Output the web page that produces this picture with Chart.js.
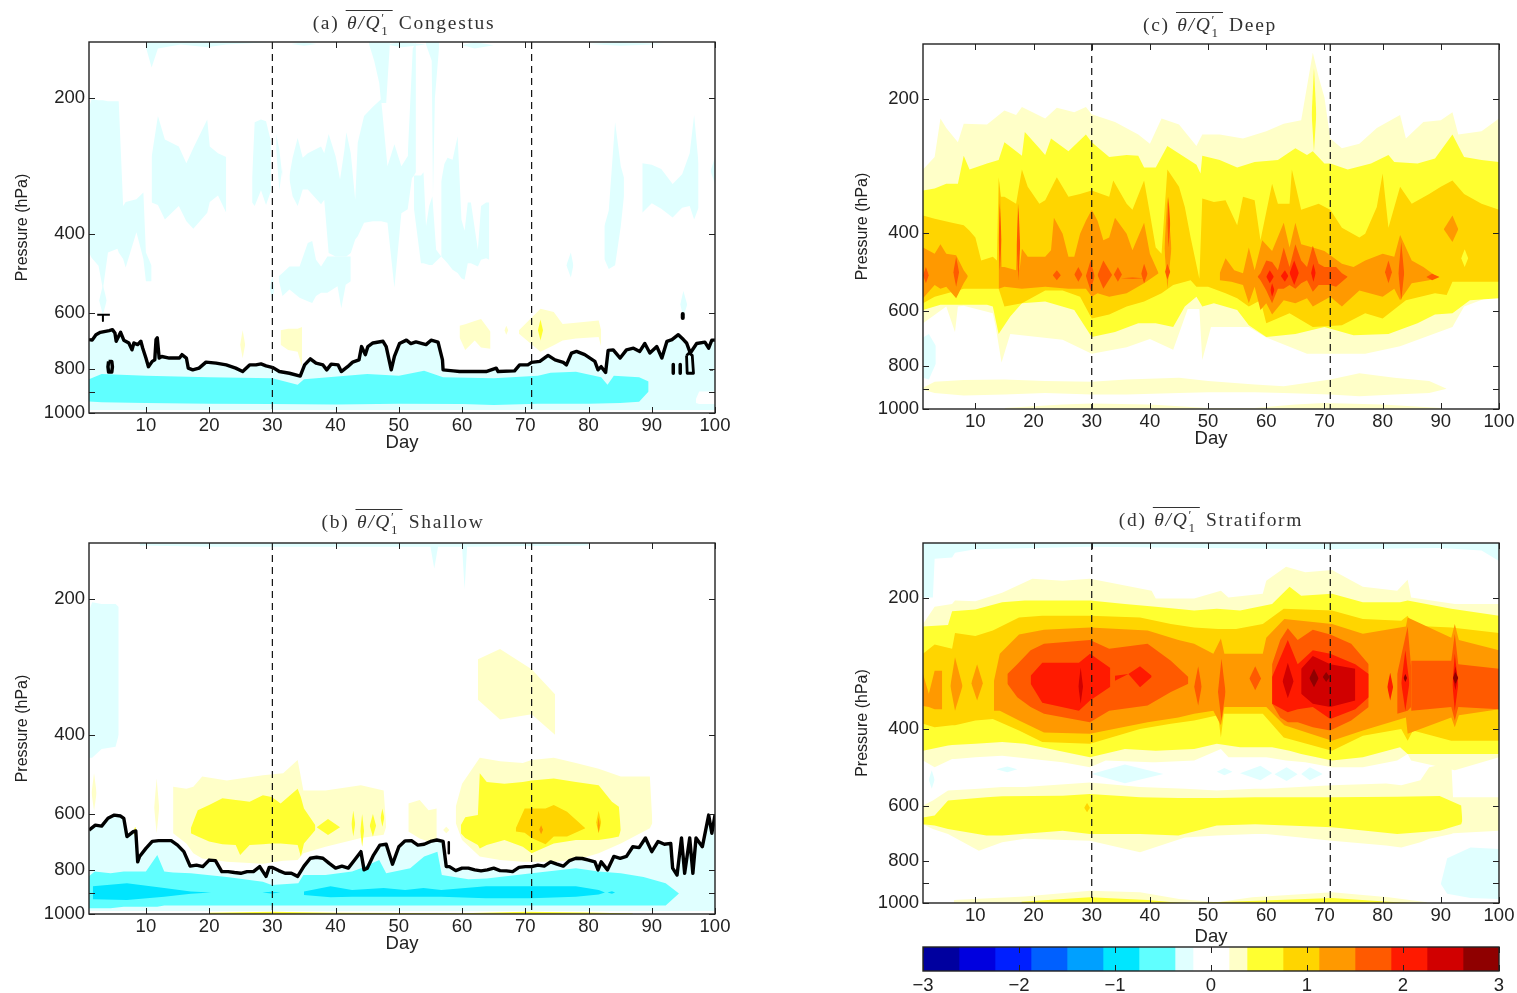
<!DOCTYPE html>
<html>
<head>
<meta charset="utf-8">
<title>Q1 composites</title>
<script src="https://cdn.jsdelivr.net/npm/chart.js@4"></script>
<style>
  html, body { margin: 0; background: #fff; overflow: hidden; }
  #page { position: relative; width: 1517px; height: 993px; filter: blur(0.4px); }
  canvas { position: absolute; }
  .ttl { position: absolute; transform: translate(-50%, -50%); white-space: nowrap;
         font: 19.5px "Liberation Serif", serif; letter-spacing: 1.7px; color: #333; line-height: 26px; }
  .ov { display: inline-block; border-top: 1.6px solid #333; padding: 0 1px; line-height: 24px; }
  .ss { display: inline-block; position: relative; width: 10px; height: 10px; }
  .ss b { position: absolute; left: 0; font-weight: normal; font-size: 13px; line-height: 13px; }
</style>
</head>
<body>
<div id="page">
  <canvas id="panelA"></canvas>
  <canvas id="panelB"></canvas>
  <canvas id="panelC"></canvas>
  <canvas id="panelD"></canvas>
  <canvas id="colorBar"></canvas>
  <div class="ttl" style="left:404px;top:23px">(a) <span class="ov"><i>θ/Q</i><span class="ss"><b style="top:-8px">′</b><b style="top:5px">1</b></span></span> Congestus</div>
  <div class="ttl" style="left:403px;top:522px">(b) <span class="ov"><i>θ/Q</i><span class="ss"><b style="top:-8px">′</b><b style="top:5px">1</b></span></span> Shallow</div>
  <div class="ttl" style="left:1210px;top:25px">(c) <span class="ov"><i>θ/Q</i><span class="ss"><b style="top:-8px">′</b><b style="top:5px">1</b></span></span> Deep</div>
  <div class="ttl" style="left:1211px;top:520px">(d) <span class="ov"><i>θ/Q</i><span class="ss"><b style="top:-8px">′</b><b style="top:5px">1</b></span></span> Stratiform</div>
</div>
<script>
// axis values
const dayTicks = [10, 20, 30, 40, 50, 60, 70, 80, 90, 100];
const pressureTicks = [200, 400, 600, 800, 900, 1000];
const pressureLabels = [200, 400, 600, 800, 1000];
const eventDays = [30, 71];
const topP = 150;
const floorP = 1000;

// colour bar
const barEdges = [-3, -2.625, -2.25, -1.875, -1.5, -1.125, -0.75, -0.375, -0.1875, 0.1875, 0.375, 0.75, 1.125, 1.5, 1.875, 2.25, 2.625, 3];
const barColors = ["#00009f", "#0000df", "#001fff", "#0060ff", "#00a0ff", "#00e6ff", "#60ffff", "#e0ffff", "#ffffff", "#ffffc8", "#ffff30", "#ffd500", "#ff9900", "#ff5a00", "#ff1a00", "#d10000", "#8f0000"];
const barTicks = [-3, -2, -1, 0, 1, 2, 3];

const paleCyan = "#e0ffff", cyan = "#60ffff", deepCyan = "#00e5ff";
const paleYellow = "#ffffc8", yellow = "#ffff30", gold = "#ffd500", orange = "#ff9900";
const darkOrange = "#ff5a00", red = "#ff1a00", darkRed = "#d10000", maroon = "#8f0000";

// ---- panel a: thick line (day, hPa)
const aLineDays = [1,1.5,2.1,2.8,4.2,4.7,5.1,5.3,6,6.5,7.3,7.8,8.1,8.7,9.2,9.5,10,10.4,11,11.4,11.6,11.8,12.1,12.5,13.7,15.3,15.7,16.4,16.7,17.4,18.4,19.5,21.1,22.7,24.2,25.3,26.4,27.4,28.2,29,30.1,31.1,32.7,34.4,35.1,36,36.9,38,38.6,39.3,40.4,40.9,41.9,42.7,43.7,44.1,44.7,45.1,45.9,47.5,48,48.8,49.3,50.1,51.2,51.9,52.7,54.3,55.1,56.2,56.9,57,58.6,59.6,63.8,65.4,65.7,68.3,69.1,70.4,71,72.3,73.6,74.7,76,76.5,77.3,78.1,79.4,81,81.5,82,82.7,83.1,83.9,85,86,87.1,88.1,88.9,89.7,90.8,91.6,92.4,93.2,94.2,95,95.5,96.1,97.1,98.4,99,99.5,100];
const aLine = [687,689,670,662,656,653,664,693,662,689,699,724,699,705,693,718,755,789,768,762,687,681,755,749,755,755,742,755,795,802,795,771,775,782,795,809,782,782,778,786,793,809,816,828,782,758,775,782,802,779,782,809,789,771,762,712,742,712,699,693,712,802,749,701,689,701,695,705,689,696,762,802,806,809,809,795,809,806,782,782,772,768,745,762,772,782,736,730,742,768,802,789,813,726,724,755,724,718,730,701,736,712,755,693,687,670,687,699,736,701,696,718,689,689];
const aRingDays = [4.1,4,4.1,4.6,4.7,4.6,4.1];
const aRing = [768,790,811,811,790,768,768];
const aLoopDays = [95.5,95.6,96.6,96.4,95.9,95.5];
const aLoop = [745,816,816,745,736,745];
const aDashDays = [2.3,3.2,3.2,3.2,4.3];
const aDash = [605,605,625,605,605];
const aBar1Days = [93.4,93.4];
const aBar2Days = [94.5,94.5];
const aBarVals = [780,816];
const aDotDays = [99.2,99.7];
const aDotVals = [802,802];
const aTopDotDays = [94.9,94.9];
const aTopDotVals = [603,615];

// panel a: lower bands
const aCyanDays = [1,3,10,20,30,34,35,45,50,54,57,65,72,74,78,82,83,84,88,89.5];
const aCyanTop = [841,819,827,833,837,866,841,819,827,806,833,837,827,814,810,833,866,827,833,851];
const aCyanBotDays = [1,3,10,20,30,40,50,60,65,72,80,85,88,89.5];
const aCyanBot = [943,947,950,954,955,957,954,955,960,954,954,950,944,896];
const aHoleDays = [97,97.5,100];
const aHoleTop = [930,896,896];
const aHoleBot = [950,955,955];

// panel a: pale cyan patches aloft
const aP1Days = [1,1.4,2.5,3.2,4,5.5,5.7,6.4,6.8,8.5,9.6,10,10.9];
const aP1Top = [210,201,202,202,203,203,203,347,340,335,324,440,471];
const aP1Bot = [440,452,471,531,440,432,440,455,475,397,455,510,510];
const aP2Days = [10.9,11.9,13,15.2,16.4,17.5,19.7,20.1,21.4,22.7];
const aP2Top = [270,219,247,256,279,258,223,256,265,270];
const aP2Bot = [341,345,372,347,375,390,359,340,329,359];
const aP3Days = [26.8,27.2,28.2,29,29.8];
const aP3Top = [300,226,223,225,250];
const aP3Bot = [341,347,320,345,320];
const aP4Days = [32.7,33.2,34,34.8,35.6,37.7,38.2,38.9,40,40.7,41.4,41.7,42.4,43.1,43.5,44.5,45.9,47.2,48.2,49.3,50.4,51.4,52.2];
const aP4Top = [297,271,245,271,265,256,265,240,269,303,260,238,265,336,251,219,209,201,283,253,283,269,269];
const aP4Bot = [303,330,347,319,319,344,336,441,449,449,449,449,441,412,405,378,375,375,378,527,360,353,292];
const aP5Days = [31,31.6,32.7,34.3,35.6,36.3,36.9,37.7,38.7,40.3,40.9,41.6,42.4];
const aP5Top = [497,489,473,473,419,415,457,473,449,449,449,449,449];
const aP5Bot = [506,550,532,555,565,570,550,541,541,523,585,519,510];
const aP8Days = [52.4,53.5,53.9,54.3,54.8,55.3,55.9,56.7];
const aP8Top = [297,297,292,385,347,330,434,449];
const aP8Bot = [353,465,465,467,469,469,460,449];
const aP9Days = [56.7,57.2,57.7,58.5,59.3,59.9,60.4,60.9,61.4,62.5,63,63.8,64.3];
const aP9Top = [306,280,271,274,243,372,394,341,341,434,347,341,341];
const aP9Bot = [449,457,465,481,489,502,506,465,465,473,457,453,457];
const aPlume1Days = [45.3,46.1,46.9,47.2,48,48.6];
const aPlume1Bot = [152,165,185,205,205,150];
const aPlume2Days = [51.4,51.9,52.2,52.7];
const aPlume2Top = [269,191,155,150];
const aPlume2Bot = [283,300,300,292];
const aPlume3Days = [54.3,55.2,55.4,55.7,56.4];
const aPlume3Bot = [152,165,330,200,152];
const aLeadDays = [30.6,31.1,31.6];
const aLeadTop = [240,260,300];
const aLeadBot = [260,320,285];
const aP6Days = [82.5,83.2,84.2,85.1,85.6];
const aP6Top = [385,355,226,283,300];
const aP6Bot = [455,479,470,385,330];
const aP7Days = [88.5,90,91.5,93.3,94.8,96,96.7,97.4];
const aP7Top = [279,281,287,310,295,265,218,280];
const aP7Bot = [359,342,352,368,350,347,372,350];
const aStripDays = [10,10.9,11.9,15.5,19.7,22.7,26.5,29.8];
const aStripBot = [154,171,155,152,154,152,151,150];
// [start, middle, end, top hPa, bottom hPa]
const aSlivers = [[99.3,100,100,270,310],[94.5,95,95.6,536,612],[2.6,3.2,3.8,520,605],[76.5,77.2,77.6,440,500],[33,35,37,150,153],[60,62,65,150,155],[80,85,92,150,153],[29.6,30,30.3,497,560],[48,50.5,54.3,150,154]];

// panel a: pale yellow patches
const aY1Days = [31.3,32.5,34,34.7];
const aY1Top = [655,650,650,644];
const aY1Bot = [705,725,731,790];
const aY2Days = [59.6,60.5,62,63,64.5];
const aY2Top = [640,635,625,618,660];
const aY2Bot = [680,725,690,715,720];
const aY3Days = [69,72.4,74.5,75.9,78,81.6,82];
const aY3Top = [655,587,597,634,630,623,655];
const aY3Bot = [667,731,707,690,683,678,713];
const aYSlivers = [[24.9,25.3,25.7,655,756],[66.7,67,67.3,640,670]];
const aYellowSlivers = [[72,72.4,72.8,620,690]];

// ---- panel b: thick line
const bLineDays = [1,2,3,4,5,6,6.5,7,8,8.4,8.7,9,10,11,12,13,14,15,16,17,18,19,20,21,22,23,24,25,26,27,28,29,29.5,30,31,32,33,34,35,36,37,38,39,40,41,42,43,44,44.5,45,46,47,48,49,50,51,52,53,54,55,56,57,57.5,58,59,60,61,62,63,64,65,66,67,68,69,70,71,72,73,74,75,76,77,78,79,80,81,81.5,82,83,84,85,86,87,88,89,90,91,92,93,93.3,94,94.7,95.2,96,96.5,97,98,99,99.5,100];
const bLine = [651,635,638,613,603,606,613,673,656,654,766,745,715,690,687,687,687,703,727,783,779,785,759,761,805,805,809,812,805,805,785,825,788,788,801,812,812,825,783,752,748,752,772,791,783,791,759,727,798,791,740,703,700,775,709,688,687,703,700,690,685,690,785,785,801,791,791,798,802,798,791,801,802,805,788,785,785,779,783,766,775,783,761,752,753,759,766,798,766,798,745,752,745,709,712,678,727,690,700,697,791,819,678,812,678,812,678,709,603,662,603];
const bMarkDays = [57.9,57.9];
const bMark = [693,733];

// panel b: blue bands
const bCyanDays = [1,1.9,4.4,6.5,10,11.8,12.9,14.3,17.1,22.8,28.5,29.9,34.1,34.9,38.4,42.6,44,46.9,48,51.8,54,56.1,56.8,61,63.9,71,78,81.6,85.1,88.7,92.2,94.3];
const bCyanTop = [824,805,812,805,805,740,805,809,812,828,848,862,855,819,819,805,791,759,812,791,745,727,819,837,834,812,791,805,812,828,855,900];
const bCyanBot = [971,971,971,963,963,963,958,958,958,958,958,958,958,958,958,958,958,958,958,958,958,958,958,958,958,958,958,958,958,958,958,900];
const bDeep1Days = [1.6,7,12.9,17.1,20.3];
const bDeep1Top = [868,855,875,891,896];
const bDeep1Bot = [927,931,915,902,896];
const bDeep2Days = [35,39.2,42.6,47.6,51,53.9,56.7,63.8,70.9,78,81.6,82.6];
const bDeep2Top = [891,868,884,875,884,875,884,868,868,868,884,896];
const bDeep2Bot = [907,918,916,915,915,915,915,923,923,915,905,896];
const bDeepSlivers = [[28.4,29.8,31.3,892,900],[83,83.7,84.2,890,902]];
const bLeftDays = [1,1.5,3,5.2,5.7];
const bLeftTop = [212,203,205,205,208];
const bLeftBot = [450,450,430,425,400];
const bStripDays = [9,20,40,55,55.6,56.2,60,60.4,60.8,80];
const bStripBot = [152,153,153,153,171,153,153,190,153,152];

// panel b: warm bands
const bPale1Days = [14.3,16.4,17.5,18.9,22.8,28.5,31.7,34,34.9,38.4,44,47.6,48];
const bPale1Top = [522,527,522,495,505,492,487,455,532,532,518,532,640];
const bPale1Bot = [662,697,733,753,766,773,762,759,733,709,678,667,640];
const bPale2Days = [51.5,53.3,54.7,56];
const bPale2Top = [568,558,588,583];
const bPale2Bot = [656,680,690,680];
const bPale3Days = [59,60,62.8,66,69.6,71,74.5,78,81.6,85.1,89.7,90.1];
const bPale3Top = [578,514,450,458,462,455,450,462,476,495,495,628];
const bPale3Bot = [628,685,745,759,766,766,766,759,733,697,645,628];
const bPale4Days = [62.5,66,71,74.7];
const bPale4Top = [272,258,286,325];
const bPale4Bot = [334,370,360,400];
const bPaleSlivers = [[11.3,11.7,12.1,500,662],[1.4,1.8,2.2,487,590],[57,57.5,58,640,662]];
const bYellow1Days = [17.1,18.2,20,22.1,24.2,24.9,26.4,28.5,29.9,31.3,34,34.5,35,36.8];
const bYellow1Top = [645,588,573,553,558,560,563,545,550,568,527,550,583,635];
const bYellow1Bot = [662,673,690,700,703,740,703,700,697,697,703,745,697,651];
const bYellow2Days = [59.8,60.5,62.5,62.8,63.9,66.7,69.6,71,74.5,78,81.6,83.7,84.8,85.1];
const bYellow2Top = [635,610,603,487,509,514,509,505,500,509,518,563,578,651];
const bYellow2Bot = [662,678,703,715,703,685,709,733,697,685,685,678,673,651];
const bYellowSlivers = [[37,38.8,40.7,615,668],[42.5,42.8,43.1,590,673],[43.9,44.2,44.5,600,709],[45.4,45.9,46.4,600,673],[47.1,47.4,47.7,583,640],[8,8.3,8.6,640,673]];
const bGoldDays = [68.5,69.9,71,73.2,74.5,76.6,79.5];
const bGoldTop = [645,583,583,583,573,593,645];
const bGoldBot = [656,660,678,700,673,673,645];
const bGoldSlivers = [[81.2,81.6,82,590,662]];
const bOrangeSlivers = [[72.2,72.5,72.8,635,665],[81.4,81.6,81.8,610,660]];
const bSliverDays = [20,30,40,60,70,80,87];
const bSliverTop = [994,988,994,996,988,992,998];

// ---- panel c
const cPaleDays = [1,3,4,5,7,8,12,15,17,18,22,24,27,29,30,34,38,40,42,45,48,49,52,56,60,63,66,68,69,70,71,73,76,79,83,84,87,90,92,93,97,100];
const cPaleTop = [288,270,221,232,250,227,228,212,217,208,221,209,214,208,216,225,240,252,221,228,255,240,240,245,236,227,223,157,178,198,245,258,252,232,217,245,225,223,214,240,236,221];
const cPaleBotDays = [1,5,6.5,7,8,13,13.5,14.5,16,25,30,36,40,44,46.5,48.5,49,50.5,57,60,67,77,83,92,94,100];
const cPaleBot = [640,587,670,587,585,608,653,785,677,698,750,725,695,735,595,595,775,653,653,690,750,750,722,653,587,548];
const cYellowDays = [1,3,5,7,8,9,12,14,15,18,18.5,21,22,23,26,29,30,33,36,38,39,41,43,45,48,48.7,49,52,55,58,62,65,67,68,70,71,74,78,81,82,86,89,92,94,97,100];
const cYellowTop = [321,318,310,310,268,288,279,274,250,268,237,258,267,245,262,240,250,270,267,268,285,285,255,265,281,294,268,274,285,277,274,258,267,262,279,279,288,279,267,277,279,272,240,270,274,277];
const cYellowBotDays = [1,4,8,12,13,14,15,16,18,22,27,30,34,38,41,44,46,48,49,51,55,57,60,65,70,75,81,86,89,92,95,100];
const cYellowBot = [598,582,582,582,587,677,647,618,577,572,598,688,670,640,640,653,587,558,587,577,598,647,688,677,653,682,677,640,612,608,568,562];
const cGoldDays = [1,3,6,8,9,10,11,13,13.7,14,14.4,15,17,18,19,21,22,24,26,28,30,33,33.7,36,37,39,40,41,42,43,45,46,47,48.5,49,51,53,55,56,58,59,61,62,64,64.4,66,69,71,73,76,77,79,80,81,83,85,88,90,92,94,97,100];
const cGoldTop = [366,372,380,385,396,410,462,453,462,300,332,332,344,288,315,344,338,300,332,327,321,332,305,344,355,305,362,432,446,288,315,350,410,508,335,341,338,385,332,338,416,310,344,344,288,355,344,355,390,410,402,350,294,390,315,344,327,315,305,327,344,355];
const cGoldBotDays = [1,3,8,14,15,18,22,25,28,30,33,36,39,42,44,47,48,50,53,55,57,59,60,64,68,73,77,80,84,89,91,92,96,100];
const cGoldBot = [577,558,535,535,587,577,540,540,558,625,612,587,572,548,525,512,530,530,548,562,587,568,640,608,653,647,608,625,568,548,553,516,516,516];
const cOrangeADays = [1,3,4,5,6.7,8,8.7];
const cOrangeATop = [432,446,425,446,450,486,500];
const cOrangeABot = [562,525,535,530,562,520,503];
const cOrangeBDays = [14,14.2,14.5,15,17,17.3,17.6,18,19,22,23,23.5,25,26,27,28,29,30,31,32,33,34,36,37,39,40,41.5];
const cOrangeBTop = [478,305,478,478,486,344,486,435,453,453,438,370,402,453,453,402,376,355,376,416,410,370,402,438,380,446,494];
const cOrangeBBotDays = [14,15,18,22,26,29,30,31,33,36,39,41.5];
const cOrangeBBot = [535,530,535,530,535,535,558,548,558,548,520,494];
const cOrangeDDays = [52,53,54.5,56,57,58,59.3,61,63,64,65,66,68,70,73,75,77,80,82,83,85,87,89.3];
const cOrangeDTop = [494,457,486,494,432,486,416,440,380,432,380,425,432,440,470,478,462,446,453,405,462,478,503];
const cOrangeDBotDays = [52,54,56,57,58,59,60,61,63,65,67,68,71,73,76,80,82,83,85,88,89.3];
const cOrangeDBot = [512,516,525,577,530,598,577,612,568,577,562,587,558,587,540,558,535,568,520,512,503];
const cOrangeSlivers = [[42.5,43,43.7,332,535],[90.5,92,93,366,420]];
const cYellowSlivers = [[93.5,94.1,94.7,436,478],[67.8,68.2,68.6,170,262]];
const cDarkDays = [58.5,59,60,61,62,63,64,65,66,67,68,69,70,71,72,73,74];
const cDarkTop = [503,494,462,466,486,432,478,425,462,478,428,470,478,478,478,494,503];
const cDarkBot = [503,512,540,577,535,535,525,535,520,512,544,525,525,525,530,516,503];
const cDarkSlivers = [[1,1.5,2,478,520],[6.2,6.7,7.2,453,530],[14,14.2,14.5,344,486],[17.1,17.4,17.7,344,512],[23.3,24,24.7,486,512],[27,27.7,28.4,478,516],[29,29.8,30.5,462,540],[31,32,33.5,462,535],[33.8,34.5,35.2,478,516],[35,37,39,505,508],[38.5,39,39.6,470,520],[43,43.2,43.5,332,432],[42.6,43,43.5,470,510],[80.4,81,81.6,462,520],[82.7,83.2,83.7,420,568],[87.5,88.5,89.8,495,512]];
const cRedSlivers = [[60,60.6,61.3,486,520],[60.7,61,61.4,520,558],[62.5,63.2,63.8,486,516],[64,64.8,65.6,462,525],[67.7,68.1,68.5,470,516]];
const cCoolDays = [1,2,3.2];
const cCoolTop = [690,677,720];
const cCoolBot = [850,858,790];
const cLowPaleDays = [1,3,8,15,22,30,36,45,50,58,63,71,76,82,88,91];
const cLowPaleTop = [895,868,860,858,865,868,858,850,865,880,888,858,830,850,865,900];
const cLowPaleBot = [905,920,932,927,920,927,927,920,917,917,920,927,936,927,920,900];
const cFloorDays = [15,25,30,40,50,58,65,70,80,90];
const cFloorTop = [995,977,972,977,995,995,977,969,977,995];

// ---- panel d
const dCoolDays = [1,2.7,3,6,6.5,10,30,50,70,90,97,100];
const dCoolBot = [200,200,163,162,158,155,153,154,155,154,156,165];
const dCoolLowDays = [90,91.1,95.1,100];
const dCoolLowTop = [905,790,746,752];
const dCoolLowBot = [905,953,974,979];
const dCoolSlivers = [[2,2.5,3,497,548],[30,35.7,42.3,482,532],[51.5,52.8,54.2,491,510],[55.5,59,61,485,524],[61.4,63.5,65.4,489,526],[66,67.5,69.7,489,524],[13.6,15.5,17.2,487,502]];
const dPaleDays = [1,3,6,6.5,10,14.6,19.8,25,29.7,32.4,40.3,41,47.6,52.2,53.5,59.4,60,63.4,66.7,71.3,76.6,82.5,84.3,84.9,92.4,100];
const dPaleTop = [230,210,207,203,204,195,181,183,181,184,193,201,201,193,200,196,183,170,175,173,189,193,182,200,207,207];
const dPaleBot = [472,489,468,468,464,460,468,476,489,472,476,476,472,444,464,464,464,472,476,489,489,472,456,472,497,464];
const dYellowDays = [1,5.3,6,10,14.6,18.5,29.7,35.7,41,47.6,51.5,55.5,61,64,66,71.3,76.6,83,84.3,91.8,100];
const dYellowTop = [233,231,215,213,205,203,203,207,210,214,212,214,207,189,198,196,205,205,203,212,220];
const dYellowBot = [448,436,435,432,428,432,464,444,448,444,432,440,440,448,456,472,464,440,456,456,456];
const dGoldDays = [1,3,6,6.5,10,13,17.5,21.5,29.7,38.3,43.6,47.6,51.7,52.2,52.7,54.8,59.4,63,71.3,76.6,83.2,84.3,85.2,91.8,100];
const dGoldTop = [269,256,262,241,245,238,222,220,220,222,230,234,236,236,236,236,230,212,214,224,226,220,232,234,241];
const dGoldBot = [389,396,392,392,382,379,403,428,432,400,389,382,372,418,369,369,369,418,448,414,400,425,403,425,425];
const dOrangeDays = [13.2,14.2,17.5,21.8,29.7,39.6,44.9,47.6,50.9,52.2,52.8,54.8,59.4,60,63.1,71.3,76.6,84,84.3,91.8,92.4,93.1,100];
const dOrangeTop = [310,269,243,237,234,238,250,255,269,248,269,269,269,247,224,230,242,233,222,247,230,250,264];
const dOrangeBot = [363,363,382,407,410,386,376,369,363,392,356,356,356,356,392,425,403,376,410,376,396,372,360];
const dOrangeLeft1Days = [1,2,3,4.3];
const dOrangeLeft1Top = [299,332,294,294];
const dOrangeLeft1Bot = [354,356,360,360];
const dOrangeSlivers = [[5.7,6.5,7.8,274,363],[9.3,10.3,11.3,284,344]];
const dDark1Days = [15.5,17.2,19.5,21.8,29.7,33,39.6,43.6,46.6];
const dDark1Top = [299,284,264,255,250,262,255,279,304];
const dDark1Bot = [315,338,356,369,386,363,353,329,315];
const dDark2Days = [61,62.4,63.7,65.4,68,71,74.6,77.6];
const dDark2Top = [284,250,235,250,237,243,255,284];
const dDark2Bot = [350,376,386,386,396,403,382,356];
const dDark3Days = [84.9,91.8,92.4,93,100];
const dDark3Top = [279,279,242,284,291];
const dDark3Bot = [363,356,382,356,360];
const dDark4Days = [82.5,84.3,84.9];
const dDark4Top = [299,233,289];
const dDark4Bot = [369,363,356];
const dDarkSlivers = [[47.6,48.3,48.9,287,353],[51.7,52.3,53,276,382],[57.1,58.1,59.1,287,326]];
const dRed1Days = [19.5,21.5,27.8,29.7,33.2];
const dRed1Top = [302,282,282,269,290];
const dRed1Bot = [315,348,363,344,320];
const dRed2Days = [34,36.3,38.3,40.3];
const dRed2Top = [302,299,287,302];
const dRed2Bot = [310,299,321,304];
const dRed3Days = [61,63.7,65.4,68,71,75.3,77.6];
const dRed3Top = [304,250,284,264,269,284,299];
const dRed3Bot = [350,366,360,356,379,360,338];
const dRedSlivers = [[80.8,81.3,81.8,297,344],[83.2,83.9,84.6,264,363],[92,92.4,93,269,363]];
const dBlood1Days = [66,68,71,75.3];
const dBlood1Top = [291,272,284,291];
const dBlood1Bot = [332,350,356,344];
const dBloodSlivers = [[27.7,28.1,28.5,289,350],[62.8,63.7,64.7,282,340],[92.1,92.5,92.9,287,326]];
const dMaroonSlivers = [[67.4,68.2,69,291,321],[69.7,70.3,70.9,296,312],[83.6,83.9,84.2,299,312],[92.1,92.5,93,296,315]];
const dLowPaleDays = [1,2.7,5.3,10.6,14.6,18.5,29.7,38.3,46,51.5,58,60,71.3,80.6,83.2,86.5,88,91.8,92.1,100];
const dLowPaleTop = [598,583,553,548,543,543,530,543,548,553,548,548,538,533,538,524,489,476,573,573];
const dLowPaleBot = [660,677,695,759,726,713,720,765,708,701,695,695,720,739,746,726,713,695,692,683];
const dLowYellowDays = [1,3,5.3,11.9,14.6,25,29.7,38.3,44.9,51.5,58.1,71.3,82.5,89.8,93.5,93.7];
const dLowYellowTop = [637,631,583,573,570,568,563,573,575,575,573,573,571,569,598,648];
const dLowYellowBot = [660,665,677,701,701,683,695,695,701,665,660,671,695,683,660,648];
const dGoldSlivers = [[28.7,29.2,29.7,590,620]];
const dFloorPaleDays = [6.3,18.5,29.7,38.3,45,51.5,57.6,71.3,81,87.6];
const dFloorPaleTop = [984,966,937,945,979,996,970,945,970,996];
const dFloorYellowDays = [17.9,29.7,39.6,44,47,59.6,71.3,81,85];
const dFloorYellowTop = [993,970,984,996,1000,987,974,993,1000];

// two line datasets with the fill between them
const band = (list, color, days, top, bot, botDays = days) => {
  const pts = (xs, ys) => xs.map((x, i) => ({ x, y: Array.isArray(ys) ? ys[i] : ys }));
  const n = list.length;
  list.push(
    { data: pts(days, top), fill: "+1", backgroundColor: color, order: -n },
    { data: pts(botDays, bot), fill: false, order: -n }
  );
};

// narrow lens shape from one [start, middle, end, top, bottom] row
const slivers = (list, color, rows) => {
  rows.forEach(([a, b, c, t, u]) => {
    const m = (t + u) / 2;
    band(list, color, [a, b, c], [m, t, m], [m, u, m]);
  });
};

const stroke = (list, days, vals, width) => {
  list.push({
    data: days.map((x, i) => ({ x, y: vals[i] })),
    borderColor: "#000", borderWidth: width, borderJoinStyle: "round",
    fill: false, order: -list.length,
  });
};

const addEvents = (list) => {
  eventDays.forEach((d) => {
    list.push({
      data: [{ x: d, y: topP }, { x: d, y: floorP }],
      borderColor: "#111", borderWidth: 1.2, borderDash: [7, 5],
      fill: false, order: -list.length,
    });
  });
};

const frameTicks = {
  id: "frameTicks",
  afterDatasetsDraw(chart) {
    const { ctx, chartArea: a, scales } = chart;
    ctx.save();
    ctx.strokeStyle = "#222";
    ctx.lineWidth = 1;
    ctx.beginPath();
    scales.x.ticks.forEach((t) => {
      const x = Math.round(scales.x.getPixelForValue(t.value)) + 0.5;
      ctx.moveTo(x, a.top); ctx.lineTo(x, a.top + 6);
      ctx.moveTo(x, a.bottom); ctx.lineTo(x, a.bottom - 6);
    });
    if (scales.y.type === "logarithmic") {
      scales.y.ticks.forEach((t) => {
        const y = Math.round(scales.y.getPixelForValue(t.value)) + 0.5;
        ctx.moveTo(a.left, y); ctx.lineTo(a.left + 6, y);
        ctx.moveTo(a.right, y); ctx.lineTo(a.right - 6, y);
      });
    }
    ctx.stroke();
    ctx.lineWidth = 1.4;
    ctx.strokeRect(a.left, a.top, a.right - a.left, a.bottom - a.top);
    ctx.restore();
  },
};

const tickFont = { family: "'Liberation Sans', sans-serif", size: 18.5 };
const padTop = 26;

const drawPanel = (id, left, top, right, bottom, yGap, xGap, datasets) => {
  const canvas = document.getElementById(id);
  const w = right - left + 89 + 35, h = bottom - top + padTop + 47;
  canvas.width = w; canvas.height = h;
  canvas.style.cssText = `left:${left - 89}px;top:${top - padTop}px;width:${w}px;height:${h}px`;
  datasets.forEach((d) => { d.pointRadius = 0; d.tension = 0; if (!d.borderWidth) d.borderWidth = 0; });
  new Chart(canvas, {
    type: "line",
    data: { datasets },
    plugins: [frameTicks],
    options: {
      responsive: false,
      animation: false,
      events: [],
      layout: { autoPadding: false, padding: { left: 0, top: padTop, right: 35, bottom: 0 } },
      plugins: { legend: { display: false }, tooltip: { enabled: false } },
      scales: {
        x: {
          type: "linear", min: 1, max: 100,
          grid: { display: false, drawTicks: false }, border: { display: false },
          afterBuildTicks: (s) => { s.ticks = dayTicks.map((value) => ({ value })); },
          afterFit: (s) => { s.height = 47; },
          ticks: { autoSkip: false, maxRotation: 0, padding: 2, color: "#222", font: tickFont },
          title: { display: true, text: "Day", color: "#222", font: tickFont, padding: { top: 0, bottom: xGap } },
        },
        y: {
          type: "logarithmic", reverse: true, min: topP, max: floorP,
          grid: { display: false, drawTicks: false }, border: { display: false },
          afterBuildTicks: (s) => { s.ticks = pressureTicks.map((value) => ({ value })); },
          afterFit: (s) => { s.width = 89; },
          ticks: {
            autoSkip: false, padding: 4, color: "#222", font: tickFont,
            callback: (v) => (pressureLabels.includes(v) ? String(v) : ""),
          },
          title: {
            display: true, text: "Pressure (hPa)", color: "#222",
            font: { family: tickFont.family, size: 16 }, padding: { top: yGap, bottom: 0 },
          },
        },
      },
    },
  });
};

// ---- build panel a
const aSets = [];
band(aSets, paleCyan, aLineDays, aLine, floorP - 15);
band(aSets, "#ffffff", aHoleDays, aHoleTop, aHoleBot);
band(aSets, cyan, aCyanDays, aCyanTop, aCyanBot, aCyanBotDays);
band(aSets, paleCyan, aP1Days, aP1Top, aP1Bot);
band(aSets, paleCyan, aP2Days, aP2Top, aP2Bot);
band(aSets, paleCyan, aP3Days, aP3Top, aP3Bot);
band(aSets, paleCyan, aLeadDays, aLeadTop, aLeadBot);
band(aSets, paleCyan, aP4Days, aP4Top, aP4Bot);
band(aSets, paleCyan, aP5Days, aP5Top, aP5Bot);
band(aSets, paleCyan, aP8Days, aP8Top, aP8Bot);
band(aSets, paleCyan, aP9Days, aP9Top, aP9Bot);
band(aSets, paleCyan, aPlume1Days, topP, aPlume1Bot);
band(aSets, paleCyan, aPlume2Days, aPlume2Top, aPlume2Bot);
band(aSets, paleCyan, aPlume3Days, topP, aPlume3Bot);
band(aSets, paleCyan, aP6Days, aP6Top, aP6Bot);
band(aSets, paleCyan, aP7Days, aP7Top, aP7Bot);
band(aSets, paleCyan, aStripDays, topP, aStripBot);
slivers(aSets, paleCyan, aSlivers);
band(aSets, paleYellow, aY1Days, aY1Top, aY1Bot);
band(aSets, paleYellow, aY2Days, aY2Top, aY2Bot);
band(aSets, paleYellow, aY3Days, aY3Top, aY3Bot);
slivers(aSets, paleYellow, aYSlivers);
slivers(aSets, yellow, aYellowSlivers);
stroke(aSets, aLineDays, aLine, 3.4);
stroke(aSets, aRingDays, aRing, 3.5);
stroke(aSets, aLoopDays, aLoop, 2.8);
stroke(aSets, aBar1Days, aBarVals, 3.5);
stroke(aSets, aBar2Days, aBarVals, 3.5);
stroke(aSets, aDashDays, aDash, 2);
stroke(aSets, aDotDays, aDotVals, 1.5);
stroke(aSets, aTopDotDays, aTopDotVals, 4);
addEvents(aSets);
drawPanel("panelA", 89, 42, 715, 413, 13, 6, aSets);

// ---- build panel b
const bSets = [];
band(bSets, paleCyan, bLineDays, bLine, floorP - 15);
band(bSets, cyan, bCyanDays, bCyanTop, bCyanBot);
band(bSets, deepCyan, bDeep1Days, bDeep1Top, bDeep1Bot);
band(bSets, deepCyan, bDeep2Days, bDeep2Top, bDeep2Bot);
slivers(bSets, deepCyan, bDeepSlivers);
band(bSets, paleCyan, bLeftDays, bLeftTop, bLeftBot);
band(bSets, paleCyan, bStripDays, topP, bStripBot);
band(bSets, paleYellow, bPale1Days, bPale1Top, bPale1Bot);
band(bSets, paleYellow, bPale2Days, bPale2Top, bPale2Bot);
band(bSets, paleYellow, bPale3Days, bPale3Top, bPale3Bot);
band(bSets, paleYellow, bPale4Days, bPale4Top, bPale4Bot);
slivers(bSets, paleYellow, bPaleSlivers);
band(bSets, yellow, bYellow1Days, bYellow1Top, bYellow1Bot);
band(bSets, yellow, bYellow2Days, bYellow2Top, bYellow2Bot);
slivers(bSets, yellow, bYellowSlivers);
band(bSets, gold, bGoldDays, bGoldTop, bGoldBot);
slivers(bSets, gold, bGoldSlivers);
slivers(bSets, orange, bOrangeSlivers);
band(bSets, yellow, bSliverDays, bSliverTop, floorP);
stroke(bSets, bLineDays, bLine, 3.4);
stroke(bSets, bMarkDays, bMark, 2.5);
addEvents(bSets);
drawPanel("panelB", 89, 543, 715, 914, 13, 6, bSets);

// ---- build panel c
const cSets = [];
band(cSets, paleYellow, cPaleDays, cPaleTop, cPaleBot, cPaleBotDays);
band(cSets, yellow, cYellowDays, cYellowTop, cYellowBot, cYellowBotDays);
band(cSets, gold, cGoldDays, cGoldTop, cGoldBot, cGoldBotDays);
slivers(cSets, yellow, cYellowSlivers);
band(cSets, orange, cOrangeADays, cOrangeATop, cOrangeABot);
band(cSets, orange, cOrangeBDays, cOrangeBTop, cOrangeBBot, cOrangeBBotDays);
band(cSets, orange, cOrangeDDays, cOrangeDTop, cOrangeDBot, cOrangeDBotDays);
slivers(cSets, orange, cOrangeSlivers);
band(cSets, darkOrange, cDarkDays, cDarkTop, cDarkBot);
slivers(cSets, darkOrange, cDarkSlivers);
slivers(cSets, red, cRedSlivers);
band(cSets, paleCyan, cCoolDays, cCoolTop, cCoolBot);
band(cSets, paleYellow, cLowPaleDays, cLowPaleTop, cLowPaleBot);
band(cSets, paleYellow, cFloorDays, cFloorTop, floorP);
addEvents(cSets);
drawPanel("panelC", 923, 44, 1499, 409, 19, 6, cSets);

// ---- build panel d
const dSets = [];
band(dSets, paleCyan, dCoolDays, topP, dCoolBot);
band(dSets, paleCyan, dCoolLowDays, dCoolLowTop, dCoolLowBot);
band(dSets, paleYellow, dPaleDays, dPaleTop, dPaleBot);
band(dSets, paleYellow, dLowPaleDays, dLowPaleTop, dLowPaleBot);
slivers(dSets, paleCyan, dCoolSlivers);
band(dSets, yellow, dLowYellowDays, dLowYellowTop, dLowYellowBot);
slivers(dSets, gold, dGoldSlivers);
band(dSets, yellow, dYellowDays, dYellowTop, dYellowBot);
band(dSets, gold, dGoldDays, dGoldTop, dGoldBot);
band(dSets, orange, dOrangeLeft1Days, dOrangeLeft1Top, dOrangeLeft1Bot);
slivers(dSets, orange, dOrangeSlivers);
band(dSets, orange, dOrangeDays, dOrangeTop, dOrangeBot);
band(dSets, darkOrange, dDark1Days, dDark1Top, dDark1Bot);
band(dSets, darkOrange, dDark2Days, dDark2Top, dDark2Bot);
band(dSets, darkOrange, dDark3Days, dDark3Top, dDark3Bot);
band(dSets, darkOrange, dDark4Days, dDark4Top, dDark4Bot);
slivers(dSets, darkOrange, dDarkSlivers);
band(dSets, red, dRed1Days, dRed1Top, dRed1Bot);
band(dSets, red, dRed2Days, dRed2Top, dRed2Bot);
band(dSets, red, dRed3Days, dRed3Top, dRed3Bot);
slivers(dSets, red, dRedSlivers);
band(dSets, darkRed, dBlood1Days, dBlood1Top, dBlood1Bot);
slivers(dSets, darkRed, dBloodSlivers);
slivers(dSets, maroon, dMaroonSlivers);
band(dSets, paleYellow, dFloorPaleDays, dFloorPaleTop, floorP);
band(dSets, yellow, dFloorYellowDays, dFloorYellowTop, floorP);
addEvents(dSets);
drawPanel("panelD", 923, 543, 1499, 903, 19, 2, dSets);

// ---- colour bar
const barCanvas = document.getElementById("colorBar");
barCanvas.width = 640; barCanvas.height = 52;
barCanvas.style.cssText = "left:891px;top:941px;width:640px;height:52px";
new Chart(barCanvas, {
  type: "bar",
  data: {
    labels: [""],
    datasets: barColors.map((color, i) => ({
      data: [[barEdges[i], barEdges[i + 1]]],
      backgroundColor: color, barPercentage: 1, categoryPercentage: 1, grouped: false,
    })),
  },
  plugins: [frameTicks],
  options: {
    indexAxis: "y",
    responsive: false,
    animation: false,
    events: [],
    layout: { autoPadding: false, padding: { left: 32, top: 6, right: 32, bottom: 0 } },
    plugins: { legend: { display: false }, tooltip: { enabled: false } },
    scales: {
      x: {
        type: "linear", min: -3, max: 3,
        grid: { display: false, drawTicks: false }, border: { display: false },
        afterBuildTicks: (s) => { s.ticks = barTicks.map((value) => ({ value })); },
        afterFit: (s) => { s.height = 22; },
        ticks: {
          autoSkip: false, maxRotation: 0, padding: 4, color: "#222", font: tickFont,
          callback: (v) => String(v).replace("-", "\u2212"),
        },
      },
      y: { display: false },
    },
  },
});
</script>
</body>
</html>
